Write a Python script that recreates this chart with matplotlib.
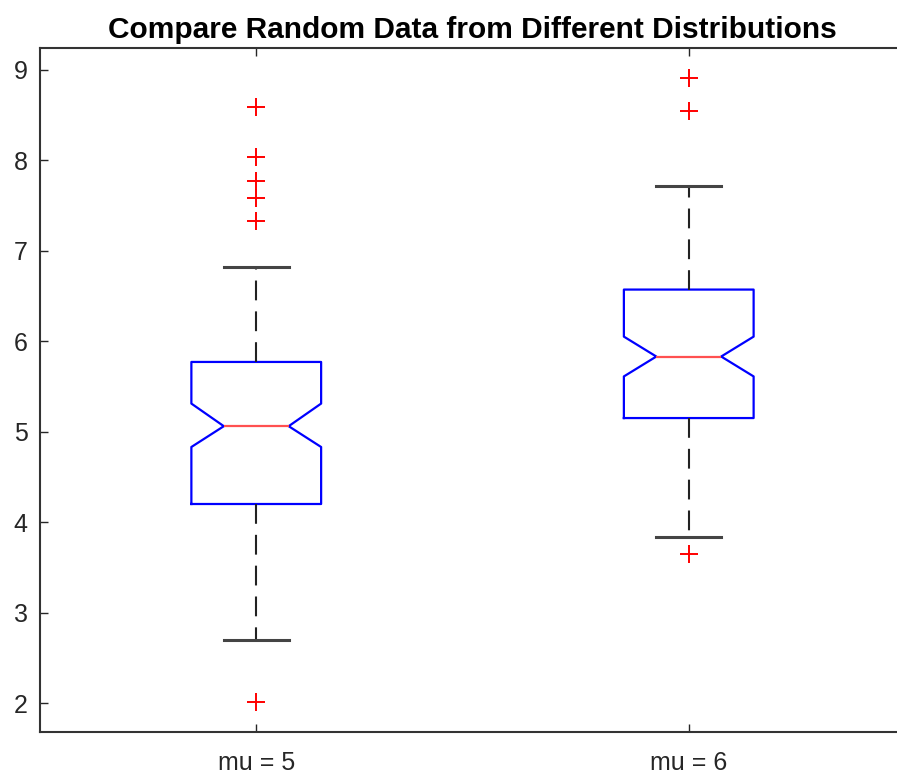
import matplotlib
matplotlib.use('Agg')
import matplotlib.pyplot as plt

# values
labels = ['mu = 5', 'mu = 6']
q1 = [4.20, 5.15]
q3 = [5.77, 6.57]
medians = [5.06, 5.83]
notch_lo = [4.83, 5.61]
notch_hi = [5.31, 6.05]
whisker_lo = [2.70, 3.83]
whisker_hi = [6.82, 7.71]
outliers = [[8.59, 8.04, 7.77, 7.58, 7.33, 2.01], [8.91, 8.54, 3.65]]

plt.rcParams['font.family'] = ['Liberation Sans', 'DejaVu Sans']

stats = []
for i in range(len(labels)):
    stats.append(dict(med=medians[i], q1=q1[i], q3=q3[i],
                      cilo=notch_lo[i], cihi=notch_hi[i],
                      whislo=whisker_lo[i], whishi=whisker_hi[i],
                      fliers=outliers[i], label=labels[i]))

fig = plt.figure(figsize=(8.97, 7.76), dpi=100)
ax = fig.add_axes([40 / 897, 1 - 732 / 776, 865 / 897, 684 / 776])

ax.bxp(stats, positions=[1, 2], widths=0.3, shownotches=True,
       boxprops=dict(color='#0000ff', linewidth=1.6),
       medianprops=dict(color='#ff5050', linewidth=1.6),
       whiskerprops=dict(color='#222222', linewidth=1.5, linestyle=(0, (9.5, 5.3))),
       capprops=dict(color='#444444', linewidth=2.2),
       flierprops=dict(marker='+', markeredgecolor='red', markersize=13, markeredgewidth=1.4))

ax.set_xlim(0.5, 2.5)
ax.set_ylim(1.68, 9.24)
ax.set_yticks(range(2, 10))
ax.set_xticks([1, 2])
ax.set_xticklabels(labels)

for s in ax.spines.values():
    s.set_color('#333333')
    s.set_linewidth(1.5)
ax.tick_params(direction='in', length=6, width=1.0, color='#262626',
               labelcolor='#262626', labelsize=18, top=True, right=True)
ax.tick_params(axis='x', pad=14)
ax.tick_params(axis='y', pad=9)

ax.set_title('Compare Random Data from Different Distributions',
             fontsize=21.5, fontweight='bold', pad=7)

fig.savefig('out.png', dpi=100)
